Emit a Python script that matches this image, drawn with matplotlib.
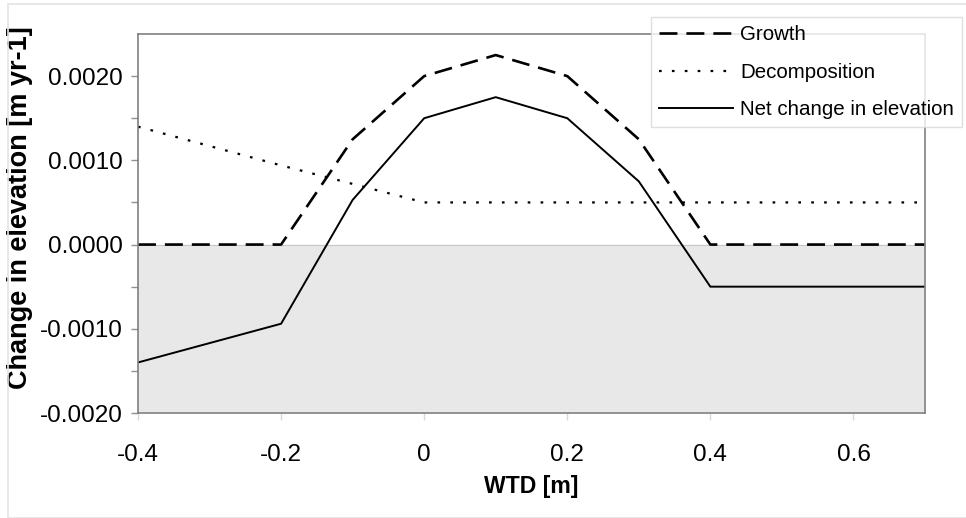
import matplotlib
matplotlib.use('Agg')
import matplotlib.pyplot as plt
from matplotlib.patches import Rectangle

plt.rcParams['font.family'] = ['Liberation Sans', 'DejaVu Sans']

# water table depth [m]
wtd = [-0.4, -0.3, -0.2, -0.1, 0.0, 0.1, 0.2, 0.3, 0.4, 0.5, 0.6, 0.7]
# rates [m yr-1]
growth = [0.0, 0.0, 0.0, 0.00125, 0.0020, 0.00225, 0.0020, 0.00125, 0.0, 0.0, 0.0, 0.0]
decomposition = [0.0014, 0.00117, 0.00094, 0.00072, 0.0005, 0.0005, 0.0005, 0.0005, 0.0005, 0.0005, 0.0005, 0.0005]
net_change = [-0.0014, -0.00117, -0.00094, 0.00053, 0.0015, 0.00175, 0.0015, 0.00075, -0.0005, -0.0005, -0.0005, -0.0005]

xticks = [-0.4, -0.2, 0, 0.2, 0.4, 0.6]
xticklabels = ['-0.4', '-0.2', '0', '0.2', '0.4', '0.6']
yticks = [-0.002, -0.001, 0.0, 0.001, 0.002]
yticklabels = ['-0.0020', '-0.0010', '0.0000', '0.0010', '0.0020']

fig = plt.figure(figsize=(9.66, 5.18), dpi=100)
ax = fig.add_axes([138 / 966, 1 - 413 / 518, 787 / 966, 379 / 518])

# light frame round the whole picture
fig.patches.append(Rectangle((8 / 966, 0), 1, 1 - 4 / 518, transform=fig.transFigure,
                             fill=False, edgecolor='#e4e4e4', linewidth=1.2))

ax.set_xlim(-0.4, 0.7)
ax.set_ylim(-0.002, 0.0025)

# shaded zone below zero
ax.axhspan(-0.002, 0.0, color='#e8e8e8', zorder=0)
ax.axhline(0, color='#c8c8c8', linewidth=0.8, zorder=1)

ax.plot(wtd, growth, color='black', linewidth=1.9, dashes=(6.8, 3.4), label='Growth')
ax.plot(wtd, decomposition, color='black', linewidth=1.6, dashes=(1.2, 4.6), label='Decomposition')
ax.plot(wtd, net_change, color='black', linewidth=1.4, label='Net change in elevation')

ax.set_xticks(xticks)
ax.set_xticklabels(xticklabels)
ax.set_yticks(yticks)
ax.set_yticklabels(yticklabels)
ax.set_yticks([-0.0015, -0.0005, 0.0005, 0.0015], minor=True)

ax.tick_params(axis='both', labelsize=17.5, color='#909090', length=5, width=1)
ax.tick_params(axis='y', which='minor', color='#909090', length=5, width=1)
ax.tick_params(axis='x', pad=17.5, color='#d8d8d8')
ax.tick_params(axis='y', pad=6)

for s in ax.spines.values():
    s.set_color('#808080')
    s.set_linewidth(1.2)

ax.set_xlabel('WTD [m]', fontsize=16.6, fontweight='bold')
ax.xaxis.set_label_coords(0.5, (413 - 475) / 379)
ax.set_ylabel('Change in elevation [m yr-1]', fontsize=19.5, fontweight='bold')
ax.yaxis.set_label_coords((33 - 138) / 787, (413 - 208) / 379)

leg = fig.legend(loc='upper right', bbox_to_anchor=(962 / 966, 1 - 17 / 518),
                 fontsize=14.8, frameon=True, fancybox=False, handlelength=3.6,
                 handletextpad=0.33, borderpad=0.4, labelspacing=0.9, borderaxespad=0)
leg.get_frame().set_edgecolor('#d8d8d8')
leg.get_frame().set_linewidth(1.0)

fig.savefig('out.png', dpi=100)
